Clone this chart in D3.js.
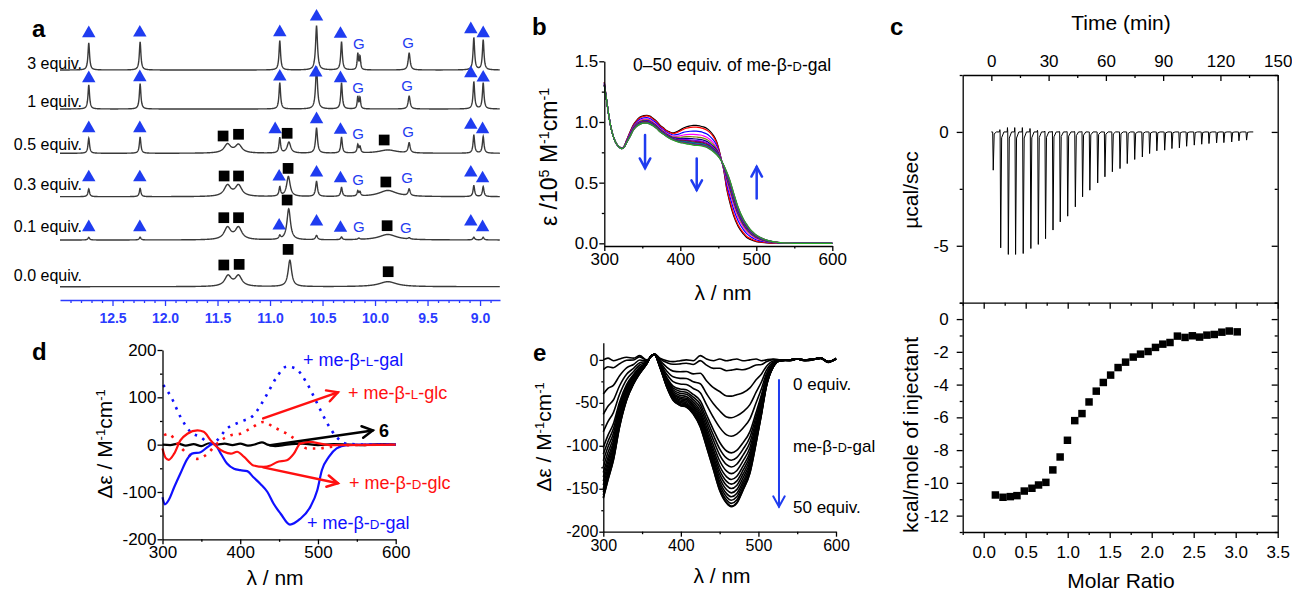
<!DOCTYPE html>
<html>
<head>
<meta charset="utf-8">
<script src="https://cdn.jsdelivr.net/npm/d3@7"></script>
<style>
  body { margin: 0; background: #fff; }
</style>
</head>
<body>
<script>
// DATA

// a: 1H NMR titration, one peak list per trace: [ppm, height, half width]
const nmrLabels = ['3 equiv.', '1 equiv.', '0.5 equiv.', '0.3 equiv.', '0.1 equiv.', '0.0 equiv.']
const nmrPeaks3 = [[12.726,27,0.009],[12.237,28,0.009],[10.907,29,0.009],[10.557,44,0.011],[10.319,28,0.009],
  [10.164,16,0.007],[10.143,13,0.007],[9.675,17,0.011],[9.059,32,0.009],[8.970,30,0.009]]
const nmrPeaks1 = [[12.726,24,0.009],[12.237,25,0.009],[10.907,26,0.009],[10.557,42,0.011],[10.319,26,0.009],
  [10.164,12,0.007],[10.143,11,0.007],[9.675,13,0.011],[9.059,27,0.009],[8.970,26,0.009]]
const nmrPeaks05 = [[12.726,15,0.009],[12.237,16,0.009],[11.405,8.8,0.038],[11.30,8.3,0.038],[10.907,15,0.009],
  [10.82,11,0.02],[10.557,25,0.011],[10.319,15.7,0.009],[10.164,8,0.008],[10.143,6,0.008],[9.878,3.3,0.1],
  [9.675,10,0.011],[9.059,18,0.009],[8.970,16.7,0.009]]
const nmrPeaks03 = [[12.726,7.7,0.009],[12.237,8.3,0.009],[11.405,11,0.038],[11.30,11,0.038],[10.907,9,0.009],
  [10.825,20,0.02],[10.557,15,0.011],[10.319,9,0.009],[10.164,5,0.008],[10.143,4,0.008],[9.878,6.2,0.1],
  [9.675,6.7,0.011],[9.059,11,0.009],[8.970,10,0.009]]
const nmrPeaks01 = [[12.726,2.7,0.009],[12.237,2.7,0.009],[11.405,12,0.038],[11.30,12,0.038],[10.907,3.3,0.009],
  [10.822,31,0.02],[10.557,4.3,0.011],[10.319,2.7,0.009],[10.154,1.3,0.01],[9.878,5.5,0.1],[9.675,1.3,0.011],
  [9.059,2.7,0.009],[8.970,2.7,0.009]]
const nmrPeaks00 = [[11.40,10.5,0.038],[11.30,10.5,0.038],[10.811,26.5,0.02],[9.878,5,0.1]]
const nmrPeaks = [nmrPeaks3, nmrPeaks1, nmrPeaks05, nmrPeaks03, nmrPeaks01, nmrPeaks00]

// a: peak assignments [ppm, kind, height]  t = triangle, s = square, g = "G"
const nmrMarks3 = [[12.726,'t',36.7],[12.24,'t',37.3],[10.907,'t',37.7],[10.557,'t',53.3],[10.329,'t',36],
  [10.154,'g',26.7],[9.685,'g',27.3],[9.088,'t',40.7],[8.97,'t',36.7]]
const nmrMarks1 = [[12.726,'t',30.7],[12.24,'t',31.7],[10.907,'t',32.3],[10.564,'t',36.3],[10.329,'t',30.7],
  [10.161,'g',21.7],[9.694,'g',23],[9.088,'t',35.7],[8.97,'t',31.3]]
const nmrMarks05 = [[12.726,'t',25],[12.24,'t',25],[11.447,'s',17.3],[11.30,'s',19],[10.951,'t',24],[10.837,'s',20],
  [10.557,'t',34],[10.329,'t',23.3],[10.161,'g',20],[9.913,'s',13.3],[9.685,'g',21.7],[9.088,'t',28.3],[8.976,'t',24]]
const nmrMarks03 = [[12.726,'t',19.3],[12.24,'t',19.3],[11.437,'s',20.7],[11.30,'s',20.7],[10.913,'t',20],[10.828,'s',28.3],
  [10.557,'t',24],[10.329,'t',18.3],[10.161,'g',16.7],[9.897,'s',14.7],[9.694,'g',19],[9.088,'t',24],[8.976,'t',18.3]]
const nmrMarks01 = [[12.726,'t',12.7],[12.24,'t',12.7],[11.44,'s',22.3],[11.30,'s',22.3],[10.913,'t',14.3],[10.837,'s',40],
  [10.557,'t',18.3],[10.329,'t',12],[10.154,'g',13.3],[9.885,'s',14.3],[9.707,'g',12.3],[9.088,'t',18.3],[8.976,'t',12.7]]
const nmrMarks00 = [[11.44,'s',21.7],[11.294,'s',22.3],[10.828,'s',37.3],[9.875,'s',15]]
const nmrMarks = [nmrMarks3, nmrMarks1, nmrMarks05, nmrMarks03, nmrMarks01, nmrMarks00]
const nmrTicks = [12.5, 12.0, 11.5, 11.0, 10.5, 10.0, 9.5, 9.0]

// b: UV-vis titration, first (0 equiv.) and last (50 equiv.) spectra on a common grid
const uvNm = [300,303,306,310,313,316,320,323,326,329,334,338,342,347,352,356,360,364,369,373,378,382,386,391,395,
  400,404,408,413,417,421,426,430,435,439,443,448,452,454,457,461,465,470,476,483,487,492,496,500,505,514,522,535,550,600]
const uvStart = [1.33,1.18,1.05,0.92,0.86,0.82,0.795,0.785,0.80,0.845,0.92,0.975,1.01,1.04,1.052,1.055,1.048,1.03,1.005,
  0.975,0.95,0.93,0.918,0.91,0.918,0.935,0.95,0.96,0.968,0.972,0.972,0.967,0.96,0.946,0.925,0.895,0.835,0.745,0.69,
  0.61,0.45,0.34,0.23,0.14,0.077,0.05,0.032,0.022,0.014,0.009,0.003,0.001,0,0,0]
const uvEnd = [1.30,1.18,1.05,0.92,0.86,0.82,0.79,0.78,0.79,0.825,0.88,0.93,0.96,0.98,0.99,0.99,0.982,0.968,0.945,
  0.92,0.898,0.88,0.865,0.85,0.84,0.83,0.825,0.82,0.815,0.81,0.807,0.805,0.80,0.79,0.775,0.757,0.73,0.70,0.68,
  0.645,0.59,0.525,0.42,0.30,0.20,0.16,0.115,0.09,0.068,0.05,0.026,0.014,0.003,0,0]
// fraction of the change reached by each intermediate spectrum (read at 425 nm)
const uvFractions = [0, 0.085, 0.29, 0.46, 0.58, 0.68, 0.75, 0.80, 0.85, 0.88, 0.92, 0.95, 0.98, 1.0]
const uvColors = ['#000000','#ff0000','#0000ff','#ff00ff','#808000','#000080','#8000ff','#800080','#800000',
  '#008080','#0060c0','#404040','#b000b0','#22aa22']
const uvArrows = [[353.6, 0.893, 0.62], [421.6, 0.70, 0.44], [500.5, 0.37, 0.63]]  // [nm, from, to]

// c: ITC raw heat (injection time, min, peak heat rate, µcal/sec)
const itcTimes = [0.7,4.6,8.6,12.4,16.4,20.4,24.3,28.1,32.0,35.8,39.7,43.7,47.5,51.3,55.4,59.2,63.1,67.1,70.9,
  74.8,78.8,82.6,86.4,90.5,94.3,98.2,102.0,106.0,109.9,113.7,117.7,121.5,125.6,129.4,133.4]
const itcPeaks = [-1.68,-5.09,-5.38,-5.38,-5.34,-5.12,-4.94,-4.69,-4.31,-3.95,-3.70,-3.29,-2.85,-2.56,-2.24,-1.97,
  -1.75,-1.61,-1.39,-1.21,-1.10,-0.95,-0.83,-0.80,-0.73,-0.70,-0.63,-0.58,-0.54,-0.51,-0.48,-0.47,-0.44,-0.39,-0.36]
const itcOvershoot = [0,0.1,0.19,0.19,0.19,0.15,0.07,0.04,0.03,0.02,0.02,0.02,0.02,0.01,0.01,0.01,0.01,0.01,0,0,
  0,0,0,0,0,0,0,0,0,0,0,0,0,0,0]
const itcEnd = 137.2
// c: integrated heats
const ratio = [0.139,0.23,0.317,0.396,0.483,0.574,0.653,0.74,0.823,0.91,0.997,1.084,1.17,1.254,1.34,1.424,1.511,
  1.60,1.689,1.78,1.867,1.957,2.045,2.132,2.218,2.306,2.397,2.484,2.57,2.657,2.745,2.835,2.923,3.018]
const heat = [-10.74,-10.88,-10.84,-10.78,-10.50,-10.33,-10.13,-9.97,-9.21,-8.42,-7.40,-6.20,-5.77,-5.06,-4.40,-3.87,
  -3.42,-2.96,-2.63,-2.32,-2.14,-1.98,-1.73,-1.53,-1.43,-1.04,-1.12,-1.02,-1.10,-0.98,-0.94,-0.80,-0.73,-0.78]

// d: CD spectra with the four sugars and compound 6 alone, [nm, Δε]
const cdGalD = [[300,-111],[303,-126],[308,-117],[315,-90],[323,-61],[332,-30],[338,-19],[349,-16],[358,-5],[366,2],
  [375,-19],[383,-40],[392,-51],[400,-54],[409,-56],[417,-69],[426,-83],[435,-100],[443,-125],[452,-146],[464,-169],
  [477,-157],[490,-132],[499,-97],[505,-54],[514,-26],[524,-8],[537,-1],[554,0],[600,0]]
const cdGalL = [[301,126],[311,101],[323,59],[336,27],[349,16],[362,2],[370,9],[383,34],[400,48],[417,62],[435,108],
  [447,143],[460,165],[471,161],[486,129],[499,87],[512,45],[524,16],[537,2],[563,0],[600,0]]
const cdGlcD = [[300,-8],[304,-28],[308,-32],[315,-19],[323,9],[332,23],[345,30],[353,27],[362,9],[370,-5],[379,-15],
  [388,-19],[396,-15],[405,-26],[417,-44],[430,-47],[439,-44],[447,-37],[460,-33],[469,-19],[477,2],[490,6],[503,2],
  [516,-1],[600,0]]
const cdGlcL = [[302,20],[308,23],[319,2],[332,-19],[345,-30],[358,-19],[370,2],[388,20],[400,23],[413,34],[430,48],
  [443,37],[460,23],[473,9],[486,-8],[499,-8],[516,-5],[537,-1],[600,0]]
const cd6 = [[300,0],[310,-1],[320,2],[330,-2],[340,1],[350,-3],[360,3],[370,0],[380,2],[390,-1],[400,2],[410,-2],
  [420,1],[428,5],[435,0],[445,-3],[460,0],[480,2],[500,-1],[520,1],[540,0],[560,-1],[580,1],[600,0]]

// e: CD titration, 0 equiv. and 50 equiv. spectra on a common grid
const ecdNm = [300,306,313,321,330,339,347,356,362,366,373,382,390,399,407,416,425,433,442,450,459,465,472,480,
  489,497,504,510,519,528,540,550,560,570,580,590,600]
const ecdStart = [0,2,-1,1,3,2,5,0,4,7,2,-1,-2,-1,0,-1,5,1,-1,1,-1,0,1,-1,0,1,-1,0,1,0,-1,1,-1,0,2,-3,2]
const ecdEnd = [-161,-140,-117,-78,-47,-28,-16,-4.6,5,6,-8.5,-32,-47,-53,-55,-63,-78,-101,-128,-152,-167,-171,-167,
  -152,-132,-97,-63,-32,-8.5,-1,0,1,0,1,2,-2,1]
const ecdFractions = [0,0.07,0.247,0.394,0.52,0.633,0.683,0.729,0.774,0.814,0.846,0.876,0.905,0.932,0.955,0.977,0.995,1.0]


// DRAWING

const FONT = 'Arial, "Liberation Sans", Helvetica, sans-serif'
const BLUE = '#1f3cf0'

const svg = d3.select('body').append('svg')
  .attr('width', 1292).attr('height', 592)
  .style('font-family', FONT)

// Text with superscripts ('sup') and small capitals ('sc')
function rich(text, parts) {
  let up = false
  for (const p of parts) {
    const [s, kind] = Array.isArray(p) ? p : [p, '']
    const t = text.append('tspan').text(s)
    if (kind === 'sup') {
      t.attr('font-size', '0.62em')
      if (!up) t.attr('dy', '-0.55em')
      up = true
    } else {
      if (up) t.attr('dy', '0.34em')
      if (kind === 'sc') t.attr('font-size', '0.74em')
      up = false
    }
  }
  return text
}
const sugar = (pre, letter, post) => [pre + 'me-β-', [letter, 'sc'], '-' + post]

function label(x, y, parts, size, opts = {}) {
  const t = svg.append('text').attr('x', x).attr('y', y).attr('font-size', size)
    .attr('fill', opts.color || '#000').attr('text-anchor', opts.anchor || 'start')
  if (opts.bold) t.attr('font-weight', 'bold')
  return rich(t, typeof parts === 'string' ? [parts] : parts)
}
function vlabel(x, y, parts, size) {
  const t = svg.append('text').attr('transform', `translate(${x},${y}) rotate(-90)`)
    .attr('text-anchor', 'middle').attr('font-size', size)
  return rich(t, typeof parts === 'string' ? [parts] : parts)
}

// Axis with major (labelled) and minor ticks; negative length = ticks pointing inside
function axis(make, scale, transform, major, minor, fmt, len, pad, size, color = '#000') {
  const g = svg.append('g').attr('transform', transform)
  g.call(make(scale).tickValues(major).tickFormat(fmt).tickSizeInner(len).tickSizeOuter(0).tickPadding(pad))
  if (minor) {
    g.append('g').call(make(scale).tickValues(minor).tickFormat(() => '').tickSizeInner(len / 2).tickSizeOuter(0))
      .select('.domain').remove()
  }
  g.attr('font-size', size).attr('font-family', FONT).attr('color', color)
  g.selectAll('.domain').attr('stroke-width', 1.3)
  g.selectAll('.tick line').attr('stroke-width', 1.3)
  return g
}
const plain = d => String(d)
const noLabel = () => ''

function arrow(x1, y1, x2, y2, color, width, head) {
  const a = Math.atan2(y2 - y1, x2 - x1)
  const g = svg.append('g').attr('stroke', color).attr('stroke-width', width).attr('fill', 'none')
    .attr('stroke-linecap', 'round').attr('stroke-linejoin', 'miter')
  g.append('line').attr('x1', x1).attr('y1', y1).attr('x2', x2).attr('y2', y2)
  g.append('polyline').attr('points', [
    [x2 - head * Math.cos(a - 0.5), y2 - head * Math.sin(a - 0.5)], [x2, y2],
    [x2 - head * Math.cos(a + 0.5), y2 - head * Math.sin(a + 0.5)]].map(p => p.join(',')).join(' '))
}

// Panel letters
for (const [t, x, y] of [['a', 32, 37], ['b', 532, 35], ['c', 890, 35], ['d', 32, 360], ['e', 533, 361]]) {
  label(x, y, t, 24, {bold: true})
}


// PANEL A: NMR stack

const xA = d3.scaleLinear().domain([13.0, 8.81]).range([60, 500])
const hA = d3.scaleLinear().domain([0, 1]).range([0, -1])   // intensity above each baseline
const baseA = [70, 109, 153.3, 196.7, 240, 286.7]
const labelYA = [69, 107, 150, 190, 232, 281]

// Sum of Lorentzian lines for one peak list
function spectrum(peaks) {
  const pts = []
  for (let p = 13.0; p >= 8.81; p -= 0.002) {
    let v = 0
    for (const [c, h, w] of peaks) v += h / (1 + ((p - c) / w) ** 2)
    pts.push([p, v])
  }
  return pts
}

const lineA = d3.line().x(d => xA(d[0])).y(d => hA(d[1]))
const tri = d3.symbol().type(d3.symbolTriangle).size(78)()
const sqA = d3.symbol().type(d3.symbolSquare).size(115)()

nmrPeaks.forEach((peaks, i) => {
  const g = svg.append('g').attr('transform', `translate(0,${baseA[i]})`)
  g.append('path').datum(spectrum(peaks)).attr('d', lineA)
    .attr('fill', 'none').attr('stroke', '#3a3a3a').attr('stroke-width', 1.4)
  for (const [p, kind, h] of nmrMarks[i]) {
    if (kind === 'g') {
      g.append('text').attr('x', xA(p)).attr('y', hA(h) + 5.3).attr('text-anchor', 'middle')
        .attr('font-size', 15).attr('fill', BLUE).text('G')
    } else {
      g.append('path').attr('d', kind === 't' ? tri : sqA)
        .attr('transform', `translate(${xA(p)},${hA(h)})`)
        .attr('fill', kind === 't' ? BLUE : '#000')
    }
  }
  label(82, labelYA[i], nmrLabels[i], 16, {anchor: 'end'})
})

const minorA = d3.range(89, 131).map(v => v / 10).filter(v => Math.abs(v * 2 - Math.round(v * 2)) > 1e-6)
axis(d3.axisBottom, xA, 'translate(0,300)', nmrTicks, minorA, d3.format('.1f'), 6, 7, 14, '#2b3bff')
  .attr('font-weight', 'bold')


// PANEL B: UV-vis titration

const xB = d3.scaleLinear().domain([300, 600]).range([604.3, 832.3])
const yB = d3.scaleLinear().domain([-0.022, 1.5]).range([246, 61.3])
const lineB = d3.line().curve(d3.curveMonotoneX).x(d => xB(d[0])).y(d => yB(d[1]))

uvFractions.forEach((f, i) => {
  const pts = uvNm.map((nm, j) => [nm, uvStart[j] + f * (uvEnd[j] - uvStart[j])])
  svg.append('path').datum(pts).attr('d', lineB)
    .attr('fill', 'none').attr('stroke', uvColors[i]).attr('stroke-width', 1.2)
})

axis(d3.axisLeft, yB, 'translate(604.3,0)', [0, 0.5, 1.0, 1.5], [0.25, 0.75, 1.25], d3.format('.1f'), 5, 1, 17)
axis(d3.axisBottom, xB, 'translate(0,246)', [300, 400, 500, 600], [350, 450, 550], plain, 5, 2, 17)

for (const [nm, from, to] of uvArrows) arrow(xB(nm), yB(from), xB(nm), yB(to), BLUE, 2.5, 11)

label(633, 71, ['0–50 equiv. of ', ...sugar('', 'D', 'gal')], 17.5)
vlabel(557, 157, ['ε /10', ['5', 'sup'], ' M', ['-1', 'sup'], 'cm', ['-1', 'sup']], 23)
label(723, 300, 'λ / nm', 21, {anchor: 'middle'})


// PANEL C: ITC

const xCt = d3.scaleLinear().domain([-15, 150]).range([962.7, 1277.7])
const yCt = d3.scaleLinear().domain([-7.5, 2.5]).range([302.7, 75])
const xCb = d3.scaleLinear().domain([-0.25, 3.5]).range([962.7, 1277.7])
const yCb = d3.scaleLinear().domain([-13, 1]).range([532, 302.7])

// raw thermogram: baseline with one sharp exothermic spike per injection
const itcPts = [[0, 0]]
itcTimes.forEach((t, i) => {
  itcPts.push([t - 0.3, 0], [t - 0.15, itcOvershoot[i]], [t, 0], [t + 0.3, itcPeaks[i]],
    [t + 0.8, itcPeaks[i] * 0.05], [t + 2.0, 0])
})
itcPts.push([itcEnd, 0])
svg.append('path').datum(itcPts)
  .attr('d', d3.line().x(d => xCt(d[0])).y(d => yCt(d[1])))
  .attr('fill', 'none').attr('stroke', '#000').attr('stroke-width', 1)
  .attr('stroke-linejoin', 'round')

axis(d3.axisLeft, yCt, 'translate(962.7,0)', [0, -5], [2.5, -2.5, -7.5], plain, 6, 8, 17)
axis(d3.axisRight, yCt, 'translate(1277.7,0)', [0, -5], [2.5, -2.5, -7.5], noLabel, -6, 0, 17)
axis(d3.axisTop, xCt, 'translate(0,75)', [0, 30, 60, 90, 120, 150], [15, 45, 75, 105, 135], plain, -6, 8, 17)

const sqC = d3.symbol().type(d3.symbolSquare).size(56)()
svg.append('g').selectAll('path').data(ratio).join('path')
  .attr('d', sqC).attr('fill', '#000')
  .attr('transform', (r, i) => `translate(${xCb(r)},${yCb(heat[i])})`)

const majorCy = [0, -2, -4, -6, -8, -10, -12]
const minorCy = [1, -1, -3, -5, -7, -9, -11, -13]
const majorCx = [0, 0.5, 1.0, 1.5, 2.0, 2.5, 3.0, 3.5]
const minorCx = [-0.25, 0.25, 0.75, 1.25, 1.75, 2.25, 2.75, 3.25]
axis(d3.axisLeft, yCb, 'translate(962.7,0)', majorCy, minorCy, plain, 6, 8, 17)
axis(d3.axisRight, yCb, 'translate(1277.7,0)', majorCy, minorCy, noLabel, -6, 0, 17)
axis(d3.axisBottom, xCb, 'translate(0,532)', majorCx, minorCx, d3.format('.1f'), 6, 8, 17)
axis(d3.axisTop, xCb, 'translate(0,302.7)', majorCx, minorCx, noLabel, -6, 0, 17)

label(1121, 30, 'Time (min)', 21, {anchor: 'middle'})
vlabel(918, 190, 'µcal/sec', 21)
vlabel(918, 435, 'kcal/mole of injectant', 21)
label(1121, 588, 'Molar Ratio', 21, {anchor: 'middle'})


// PANEL D: CD of 6 with the four sugars

const xD = d3.scaleLinear().domain([300, 600]).range([162.5, 395.7])
const yD = d3.scaleLinear().domain([-200, 200]).range([539.3, 350])
const lineD = d3.line().curve(d3.curveMonotoneX).x(d => xD(d[0])).y(d => yD(d[1]))

const cdSeries = [
  [cd6, '#000', false],
  [cdGalL, '#1010ff', true],
  [cdGlcL, '#ff1010', true],
  [cdGalD, '#1010ff', false],
  [cdGlcD, '#ff1010', false],
]
for (const [data, color, dotted] of cdSeries) {
  const p = svg.append('path').datum(data).attr('d', lineD)
    .attr('fill', 'none').attr('stroke', color).attr('stroke-width', dotted ? 2.6 : 2.2)
  if (dotted) p.attr('stroke-dasharray', '2.5 6')
}

axis(d3.axisLeft, yD, 'translate(162.5,0)', [-200, -100, 0, 100, 200], [-150, -50, 50, 150], plain, 5, 1, 17)
axis(d3.axisBottom, xD, 'translate(0,539.3)', [300, 400, 500, 600], [350, 450, 550], plain, 5, 2, 17)

arrow(xD(429.5), yD(55.5), xD(525.6), yD(110.5), '#ff1010', 2.5, 12)
arrow(xD(429.5), yD(-48), xD(525.6), yD(-81.7), '#ff1010', 2.5, 12)
arrow(xD(438.5), yD(-1.5), xD(570.5), yD(30), '#000', 2.5, 12)

label(303, 366, sugar('+ ', 'L', 'gal'), 18, {color: '#1010ff'})
label(348, 399, sugar('+ ', 'L', 'glc'), 18, {color: '#ff1010'})
label(379, 437, '6', 18, {bold: true})
label(349, 489, sugar('+ ', 'D', 'glc'), 18, {color: '#ff1010'})
label(307, 529, sugar('+ ', 'D', 'gal'), 18, {color: '#1010ff'})

vlabel(112, 444, ['Δε / M', ['-1', 'sup'], 'cm', ['-1', 'sup']], 21)
label(275, 585, 'λ / nm', 21, {anchor: 'middle'})


// PANEL E: CD titration with me-β-D-gal

const xE = d3.scaleLinear().domain([300, 600]).range([603.3, 836])
const yE = d3.scaleLinear().domain([-200, 20]).range([531.7, 342.7])
const lineE = d3.line().curve(d3.curveMonotoneX).x(d => xE(d[0])).y(d => yE(d[1]))

ecdFractions.forEach(f => {
  const pts = ecdNm.map((nm, j) => [nm, ecdStart[j] + f * (ecdEnd[j] - ecdStart[j])])
  svg.append('path').datum(pts).attr('d', lineE)
    .attr('fill', 'none').attr('stroke', '#000').attr('stroke-width', 1.6)
})

axis(d3.axisLeft, yE, 'translate(603.3,0)', [-200, -150, -100, -50, 0], [-175, -125, -75, -25], plain, 4, 1, 16)
axis(d3.axisBottom, xE, 'translate(0,531.7)', [300, 400, 500, 600], [350, 450, 550], plain, 5, 3, 16)

arrow(xE(526.5), yE(-23.4), xE(526.5), yE(-171), BLUE, 2, 12)
label(793, 390, '0 equiv.', 17)
label(793, 452, sugar('', 'D', 'gal'), 17)
label(793, 513, '50 equiv.', 17)

vlabel(551, 437, ['Δε / M', ['-1', 'sup'], 'cm', ['-1', 'sup']], 21)
label(722, 583, 'λ / nm', 21, {anchor: 'middle'})
</script>
</body>
</html>
